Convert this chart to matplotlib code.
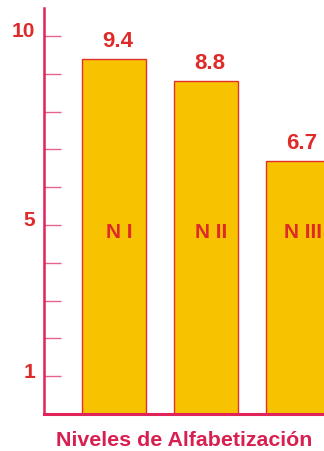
import matplotlib
matplotlib.use("Agg")
import matplotlib.pyplot as plt
import matplotlib.transforms as mtransforms

# data
levels = ["N I", "N II", "N III"]
values = [9.4, 8.8, 6.7]
ytick_vals = [1, 2, 3, 4, 5, 6, 7, 8, 9, 10]
ytick_labels = ["1", "", "", "", "5", "", "", "", "", "10"]
xlabel = "Niveles de Alfabetización"

plt.rcParams['font.family'] = ['Liberation Sans', 'DejaVu Sans']

fig = plt.figure(figsize=(3.24, 4.51), dpi=100)
ax = fig.add_axes([44/324, 1 - 414/451, 280/324, 406/451])

pos = list(range(len(levels)))
ax.bar(pos, values, width=0.696, color="#f7c300", edgecolor="#e2302a",
       linewidth=1.0, zorder=2)

ax.set_xlim(-0.761, 2.283)
ax.set_ylim(0, 10.74)

for s in ["top", "right"]:
    ax.spines[s].set_visible(False)
ax.spines["left"].set_color("#e0245a")
ax.spines["left"].set_linewidth(1.8)
ax.spines["bottom"].set_color("#e0245a")
ax.spines["bottom"].set_linewidth(2.2)
ax.spines["bottom"].set_zorder(3)

ax.set_xticks([])
ax.set_yticks(ytick_vals)
ax.set_yticklabels(ytick_labels)
ax.tick_params(axis="y", direction="in", length=12.5, width=1.0,
               color="#e8638a", pad=6.5, labelsize=15, labelcolor="#df2a2a")
shift = mtransforms.ScaledTranslation(0, 6/100, fig.dpi_scale_trans)
for lab in ax.get_yticklabels():
    lab.set_fontweight("bold")
    lab.set_transform(lab.get_transform() + shift)

# value labels above bars, level names inside
for i, v in enumerate(values):
    ax.annotate(f"{v}", (i + 0.04, v), xytext=(0, 12.5), textcoords="offset points",
                ha="center", va="center", fontsize=16, fontweight="bold",
                color="#df2a2a")
    ax.text(i + 0.06, 4.8, levels[i], ha="center", va="center", fontsize=15,
            fontweight="bold", color="#df2a2a", zorder=4)

fig.text(184/324, 1 - 440/451, xlabel, ha="center", va="center",
         fontsize=15.4, fontweight="bold", color="#d91f50")

fig.savefig("out.png", dpi=100)
